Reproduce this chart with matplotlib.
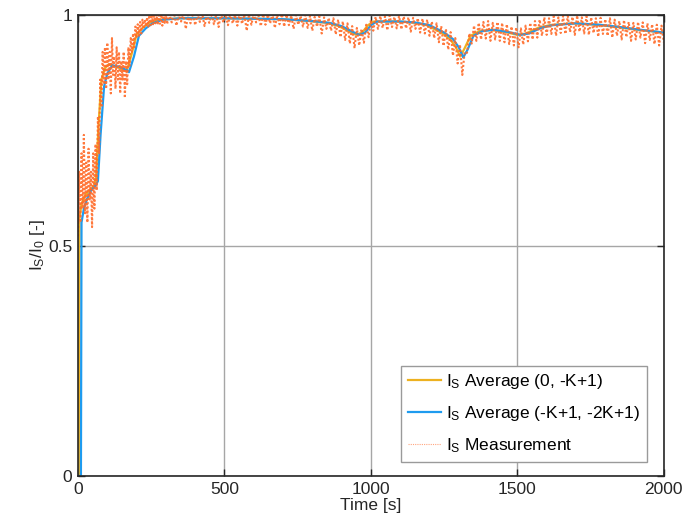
import numpy as np
import matplotlib
matplotlib.use("Agg")
import matplotlib.pyplot as plt

plt.rcParams['font.family'] = ['Liberation Sans', 'DejaVu Sans']
plt.rcParams['mathtext.fontset'] = 'custom'
plt.rcParams['mathtext.rm'] = 'Liberation Sans'

# measurement, sampled every 4 s up to 300 s, then every 8 s
meas_t = np.concatenate([np.arange(0, 304, 4), np.arange(304, 2001, 8)])
meas_v = [
    0.52, 0.66, 0.55, 0.70, 0.58, 0.74, 0.57, 0.68, 0.55, 0.71,
    0.60, 0.66, 0.54, 0.70, 0.58, 0.72, 0.62, 0.78, 0.70, 0.86,
    0.80, 0.92, 0.85, 0.93, 0.84, 0.94, 0.86, 0.92, 0.83, 0.95,
    0.87, 0.91, 0.84, 0.93, 0.86, 0.92, 0.83, 0.90, 0.86, 0.92,
    0.82, 0.90, 0.85, 0.93, 0.89, 0.95, 0.92, 0.96, 0.93, 0.975,
    0.95, 0.98, 0.955, 0.985, 0.96, 0.99, 0.97, 0.99, 0.975, 0.995,
    0.975, 1.0, 0.978, 1.002, 0.98, 1.003, 0.982, 1.001, 0.979, 1.004,
    0.981, 1.002, 0.977, 1.003, 0.983, 1.001,
    # 304 s ->
    0.980, 1.002, 0.984, 1.004, 0.977, 1.001, 0.986, 1.003, 0.970, 1.000,
    0.982, 1.004, 0.978, 1.002, 0.985, 1.003, 0.976, 1.001, 0.983, 1.004,
    0.980, 1.002, 0.974, 1.003, 0.984, 1.001, 0.978, 1.004, 0.982, 1.000,
    0.977, 1.003, 0.981, 1.001, 0.966, 1.002, 0.979, 1.003, 0.984, 0.999,
    0.976, 1.002, 0.979, 1.001, 0.982, 1.003, 0.972, 1.000, 0.980, 1.002,
    0.975, 1.001, 0.978, 0.999, 0.970, 1.000, 0.979, 0.998, 0.975, 1.000,
    0.972, 0.998, 0.966, 0.996, 0.975, 0.997, 0.960, 0.995, 0.970, 0.994,
    0.966, 0.993, 0.958, 0.990, 0.952, 0.986, 0.946, 0.982, 0.938, 0.976,
    0.928, 0.972, 0.934, 0.970, 0.940, 0.979, 0.952, 0.989, 0.966, 0.996,
    0.970, 0.998, 0.972, 0.997, 0.967, 0.999, 0.974, 0.996, 0.971, 0.998,
    0.969, 0.997, 0.971, 0.995, 0.964, 0.994, 0.970, 0.993, 0.962, 0.992,
    0.960, 0.990, 0.955, 0.986, 0.950, 0.982, 0.941, 0.976, 0.933, 0.970,
    0.925, 0.963, 0.912, 0.950, 0.895, 0.936, 0.870, 0.920, 0.918, 0.960,
    0.938, 0.977, 0.944, 0.983, 0.947, 0.985, 0.949, 0.987, 0.944, 0.983,
    0.947, 0.985, 0.944, 0.983, 0.941, 0.980, 0.937, 0.975, 0.934, 0.973,
    0.930, 0.971, 0.936, 0.977, 0.943, 0.983, 0.947, 0.987, 0.951, 0.990,
    0.955, 0.995, 0.957, 0.993, 0.959, 0.997, 0.955, 0.995, 0.961, 0.998,
    0.959, 0.998, 0.963, 0.996, 0.957, 0.999, 0.964, 0.995, 0.960, 0.997,
    0.957, 0.995, 0.961, 0.993, 0.953, 0.994, 0.959, 0.991, 0.955, 0.993,
    0.951, 0.990, 0.955, 0.987, 0.947, 0.989, 0.952, 0.985, 0.944, 0.983,
    0.947, 0.985, 0.951, 0.984, 0.939, 0.982, 0.946, 0.980, 0.937, 0.979,
    0.934, 0.977, 0.941,
]

# average (0, -K+1)
avg1_t = [0, 3, 5, 12, 25, 40, 55, 62, 70, 80, 92, 105, 130, 160, 166, 183,
          200, 222, 246, 280, 350, 500, 700, 790, 850, 890, 930, 950, 970,
          990, 1010, 1090, 1140, 1190, 1240, 1270, 1290, 1305, 1320, 1340,
          1370, 1410, 1460, 1500, 1530, 1570, 1610, 1690, 1770, 1840, 1910,
          2000]
avg1_v = [0, 0, 0.56, 0.59, 0.61, 0.62, 0.63, 0.65, 0.76, 0.86, 0.885, 0.893,
          0.888, 0.880, 0.878, 0.915, 0.958, 0.973, 0.984, 0.99, 0.993, 0.993,
          0.991, 0.987, 0.983, 0.976, 0.963, 0.957, 0.962, 0.978, 0.986, 0.986,
          0.984, 0.978, 0.962, 0.948, 0.93, 0.91, 0.928, 0.955, 0.965, 0.968,
          0.963, 0.957, 0.96, 0.972, 0.978, 0.982, 0.979, 0.974, 0.968, 0.962]

# average (-K+1, -2K+1)
avg2_t = [0, 10, 12, 20, 30, 45, 60, 68, 77, 89, 100, 117, 140, 168, 174, 191,
          208, 231, 254, 290, 350, 500, 700, 800, 860, 900, 940, 960, 980,
          1000, 1020, 1100, 1150, 1200, 1250, 1280, 1300, 1315, 1330, 1350,
          1380, 1420, 1470, 1510, 1540, 1580, 1620, 1700, 1780, 1850, 1920,
          2000]
avg2_v = [0, 0, 0.55, 0.58, 0.60, 0.62, 0.63, 0.64, 0.74, 0.845, 0.873, 0.891,
          0.888, 0.880, 0.876, 0.91, 0.955, 0.971, 0.982, 0.99, 0.993, 0.993,
          0.991, 0.987, 0.983, 0.976, 0.963, 0.957, 0.962, 0.978, 0.986, 0.986,
          0.984, 0.978, 0.962, 0.948, 0.93, 0.908, 0.925, 0.955, 0.965, 0.968,
          0.963, 0.957, 0.96, 0.972, 0.978, 0.982, 0.979, 0.974, 0.968, 0.962]

fig = plt.figure(figsize=(6.86, 5.28), dpi=100)
ax = fig.add_axes([0.1137, 0.0985, 0.854, 0.873])

ax.plot(avg1_t, avg1_v, color='#EDB120', lw=1.6,
        label=r'$\mathregular{I_S}$ Average (0, -K+1)')
ax.plot(avg2_t, avg2_v, color='#1E9BEF', lw=1.6,
        label=r'$\mathregular{I_S}$ Average (-K+1, -2K+1)')
ax.plot(meas_t, meas_v, color='#FF6A28', lw=1.5, ls=(0, (1, 1)), alpha=0.9,
        label=r'$\mathregular{I_S}$ Measurement')

ax.set_xlim(0, 2000)
ax.set_ylim(0, 1)
ax.set_xticks([0, 500, 1000, 1500, 2000])
ax.set_yticks([0, 0.5, 1])
ax.set_yticklabels(['0', '0.5', '1'])
ax.grid(True, color='#a6a6a6', lw=1.0)
ax.set_axisbelow(True)
ax.tick_params(direction='in', top=True, right=True, length=5, width=1,
               labelsize=12.5, colors='#262626', pad=4)
for s in ax.spines.values():
    s.set_color('#262626')
    s.set_linewidth(1.2)

ax.set_xlabel('Time [s]', fontsize=12.5, color='#262626', labelpad=1)
ax.set_ylabel(r'$\mathregular{I_S/I_0}$ [-]', fontsize=12.5, color='#262626',
              labelpad=1)

leg = ax.legend(loc='lower right', bbox_to_anchor=(0.971, 0.030),
                borderaxespad=0, fontsize=12.5, handlelength=1.9,
                handletextpad=0.3, labelspacing=0.75, fancybox=False,
                edgecolor='#9a9a9a', framealpha=1)
leg.get_frame().set_linewidth(1.0)
# dotted measurement entry is faint in the legend
leg.get_lines()[2].set_linewidth(0.8)
leg.get_lines()[2].set_alpha(0.6)

fig.savefig('out.png', dpi=100)
